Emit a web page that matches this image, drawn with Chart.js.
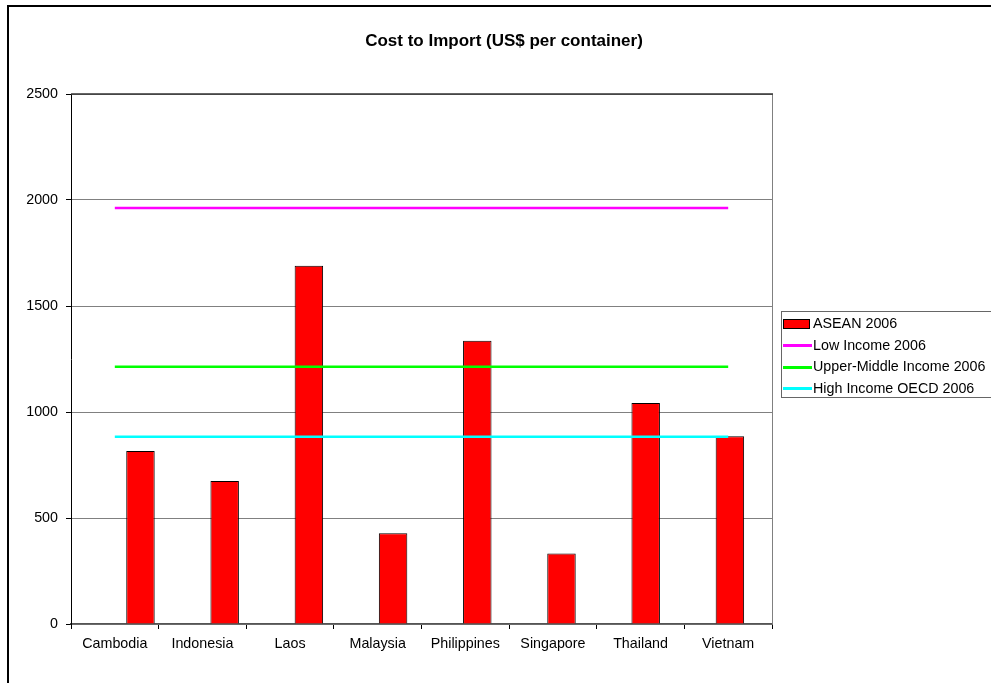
<!DOCTYPE html>
<html>
<head>
<meta charset="utf-8">
<title>Cost to Import (US$ per container)</title>
<script src="https://cdn.jsdelivr.net/npm/chart.js@4/dist/chart.umd.min.js"></script>
<style>
  html, body { margin: 0; padding: 0; background: #fff; overflow: hidden; }
  body { width: 991px; height: 683px; position: relative; font-family: "Liberation Sans", Arial, sans-serif; }
  #frame { position: absolute; left: 7px; top: 5px; width: 1000px; height: 700px;
           border-left: 2.5px solid #000; border-top: 2.5px solid #000; box-sizing: border-box; }
  #chart { position: absolute; left: 0; top: 0; }
  #title { position: absolute; left: 304px; width: 400px; top: 30px; text-align: center;
           font: bold 17px "Liberation Sans", Arial, sans-serif; color: #000; line-height: 21px; }
  #legend { position: absolute; left: 781px; top: 311px; width: 220px; height: 87px;
            border: 1.5px solid #666; box-sizing: border-box; padding-top: 1px; }
  .row { position: relative; height: 21.7px; line-height: 21.7px; font-size: 14.3px; color: #000; white-space: nowrap; }
  .row span.key { position: absolute; left: 1px; top: 50%; }
  .row span.text { position: absolute; left: 31px; }
</style>
</head>
<body>
<div id="frame"></div>
<canvas id="chart" width="991" height="683"></canvas>
<div id="title">Cost to Import (US$ per container)</div>
<div id="legend"></div>
<script>
// Countries on the category axis
const countries = ['Cambodia', 'Indonesia', 'Laos', 'Malaysia', 'Philippines', 'Singapore', 'Thailand', 'Vietnam'];

// Cost to import, US$ per container
const asean2006 = [816, 675, 1690, 428, 1336, 333, 1042, 886];
const lowIncome2006 = [1962, 1962, 1962, 1962, 1962, 1962, 1962, 1962];
const upperMiddleIncome2006 = [1213, 1213, 1213, 1213, 1213, 1213, 1213, 1213];
const highIncomeOECD2006 = [883, 883, 883, 883, 883, 883, 883, 883];

// Value axis ticks
const yTickValues = [0, 500, 1000, 1500, 2000, 2500];

const seriesNames = ['ASEAN 2006', 'Low Income 2006', 'Upper-Middle Income 2006', 'High Income OECD 2006'];
const seriesColors = ['#FF0000', '#FF00FF', '#00FF00', '#00FFFF'];

const FONT = { family: '"Liberation Sans", Arial, sans-serif', size: 14.3 };

// Outline of the plot area (right edge gray, top edge dark)
const plotFrame = {
  id: 'plotFrame',
  afterDraw(chart) {
    const a = chart.chartArea, ctx = chart.ctx;
    ctx.save();
    ctx.strokeStyle = '#808080';
    ctx.lineWidth = 1;
    ctx.beginPath();
    ctx.moveTo(Math.round(a.right) + 0.5, a.top);
    ctx.lineTo(Math.round(a.right) + 0.5, a.bottom);
    ctx.stroke();
    ctx.strokeStyle = '#333';
    ctx.lineWidth = 1.5;
    ctx.beginPath();
    ctx.moveTo(a.left, a.top);
    ctx.lineTo(a.right + 1, a.top);
    ctx.stroke();
    ctx.restore();
  }
};

function lineSet(label, data, color) {
  return {
    type: 'line', label, data, xAxisID: 'x', yAxisID: 'y',
    borderColor: color, backgroundColor: color, borderWidth: 2.5,
    pointRadius: 0, pointHoverRadius: 0, fill: false, tension: 0, order: 1
  };
}

const chart = new Chart(document.getElementById('chart'), {
  type: 'bar',
  data: {
    labels: countries,
    datasets: [
      {
        type: 'bar', label: seriesNames[0],
        data: asean2006.map((v, i) => ({ x: i, y: v })),
        xAxisID: 'xb', yAxisID: 'y', grouped: false,
        backgroundColor: seriesColors[0], borderColor: '#000', borderWidth: 1,
        categoryPercentage: 1, barPercentage: 0.338, order: 2
      },
      lineSet(seriesNames[1], lowIncome2006, seriesColors[1]),
      lineSet(seriesNames[2], upperMiddleIncome2006, seriesColors[2]),
      lineSet(seriesNames[3], highIncomeOECD2006, seriesColors[3])
    ]
  },
  options: {
    responsive: false,
    animation: false,
    devicePixelRatio: 1,
    layout: { padding: { top: 94, left: 0, right: 219, bottom: 0 } },
    plugins: { legend: { display: false }, title: { display: false }, tooltip: { enabled: false } },
    scales: {
      x: {
        type: 'category', offset: true, position: 'bottom',
        grid: { offset: true, drawOnChartArea: false, drawTicks: true, tickLength: 5, tickColor: '#000', tickWidth: 1 },
        border: { display: true, color: '#555', width: 1.5 },
        ticks: { color: '#000', font: FONT, padding: 6, maxRotation: 0, autoSkip: false },
        afterFit(scale) { scale.height = 59; }
      },
      // bar positions run on their own linear axis, shifted inside each category
      xb: {
        type: 'linear', display: false, min: -0.825, max: 7.5, offset: false,
        afterBuildTicks(scale) { scale.ticks = countries.map((c, i) => ({ value: i })); }
      },
      y: {
        type: 'linear', min: 0, max: 2500, position: 'left',
        afterBuildTicks(scale) { scale.ticks = yTickValues.map(v => ({ value: v })); },
        grid: { color: '#808080', lineWidth: 1, drawTicks: true, tickLength: 5, tickColor: '#000' },
        border: { display: true, color: '#000', width: 1 },
        ticks: { color: '#000', font: FONT, padding: 8, callback: v => String(v) },
        afterFit(scale) { scale.width = 71; }
      }
    }
  },
  plugins: [plotFrame]
});

// Legend built from the chart's datasets
const legend = document.getElementById('legend');
chart.data.datasets.forEach((ds, i) => {
  const row = document.createElement('div');
  row.className = 'row';
  const key = document.createElement('span');
  key.className = 'key';
  if (ds.type === 'bar') {
    key.style.cssText = 'width:27px;height:10px;margin-top:-5px;background:' + ds.backgroundColor +
      ';border:1px solid #000;box-sizing:border-box;';
  } else {
    key.style.cssText = 'width:29px;height:3px;margin-top:-1.5px;background:' + ds.borderColor + ';';
  }
  const text = document.createElement('span');
  text.className = 'text';
  text.textContent = ds.label;
  row.appendChild(key);
  row.appendChild(text);
  legend.appendChild(row);
});
</script>
</body>
</html>
